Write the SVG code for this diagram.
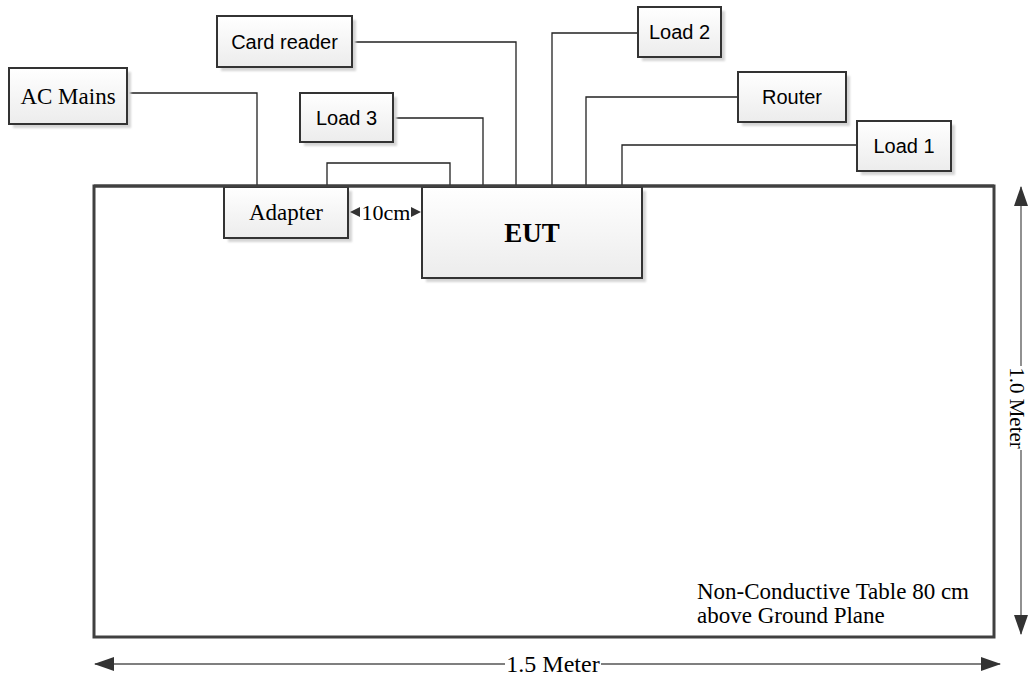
<svg xmlns="http://www.w3.org/2000/svg" width="1030" height="679" viewBox="0 0 1030 679">
  <defs>
    <linearGradient id="boxFill" x1="0" y1="0" x2="0" y2="1">
      <stop offset="0" stop-color="#ffffff"/>
      <stop offset="1" stop-color="#ececec"/>
    </linearGradient>
    <filter id="soft" x="-10%" y="-10%" width="130%" height="140%">
      <feGaussianBlur stdDeviation="1.2"/>
    </filter>
    <marker id="arrowEnd" viewBox="0 0 20 14" refX="19" refY="7" markerWidth="20" markerHeight="14" markerUnits="userSpaceOnUse" orient="auto">
      <path d="M0,0 L20,7 L0,14 Z" fill="#333"/>
    </marker>
    <marker id="arrowStart" viewBox="0 0 20 14" refX="1" refY="7" markerWidth="20" markerHeight="14" markerUnits="userSpaceOnUse" orient="auto">
      <path d="M20,0 L0,7 L20,14 Z" fill="#333"/>
    </marker>
  </defs>
  <style>
    .box { fill: url(#boxFill); stroke: #333; stroke-width: 2; }
    .shadow { fill: #d4d4d4; filter: url(#soft); }
    .wire { fill: none; stroke: #222; stroke-width: 1.3; }
    .dim { fill: none; stroke: #555; stroke-width: 1.3; }
    .serif { font-family: "Liberation Serif", "Times New Roman", serif; fill: #000; }
    .sans { font-family: "Liberation Sans", Arial, sans-serif; font-size: 20px; fill: #000; }
  </style>

  <rect width="1030" height="679" fill="#fff"/>

  <!-- table outline -->
  <g id="table">
    <rect x="94" y="186" width="900" height="451" fill="#fff" stroke="#404040" stroke-width="3"/>
    <text class="serif" font-size="23" x="697" y="599">Non-Conductive Table 80 cm</text>
    <text class="serif" font-size="23" x="697" y="623">above Ground Plane</text>
  </g>

  <!-- cables -->
  <g id="connectors">
    <polyline class="wire" points="127,93 257,93 257,186"/>
    <polyline class="wire" points="352,42 516,42 516,186"/>
    <polyline class="wire" points="393,118 483,118 483,186"/>
    <polyline class="wire" points="638,33 552,33 552,186"/>
    <polyline class="wire" points="738,97 586,97 586,186"/>
    <polyline class="wire" points="857,145 622,145 622,186"/>
    <polyline class="wire" points="327,186 327,163 450,163 450,186"/>
  </g>

  <g id="ac-mains">
    <rect class="shadow" x="13" y="72" width="118" height="56"/>
    <rect class="box" x="9" y="68" width="118" height="56"/>
    <text class="serif" font-size="23" x="68" y="104" text-anchor="middle">AC Mains</text>
  </g>

  <g id="card-reader">
    <rect class="shadow" x="221" y="20" width="135" height="51"/>
    <rect class="box" x="217" y="16" width="135" height="51"/>
    <text class="sans" x="284.5" y="48.5" text-anchor="middle">Card reader</text>
  </g>

  <g id="load-3">
    <rect class="shadow" x="304" y="97" width="93" height="49"/>
    <rect class="box" x="300" y="93" width="93" height="49"/>
    <text class="sans" x="346.5" y="124.5" text-anchor="middle">Load 3</text>
  </g>

  <g id="load-2">
    <rect class="shadow" x="642" y="11" width="83" height="50"/>
    <rect class="box" x="638" y="7" width="83" height="50"/>
    <text class="sans" x="679.5" y="39" text-anchor="middle">Load 2</text>
  </g>

  <g id="router">
    <rect class="shadow" x="742" y="76" width="108" height="50"/>
    <rect class="box" x="738" y="72" width="108" height="50"/>
    <text class="sans" x="792" y="104" text-anchor="middle">Router</text>
  </g>

  <g id="load-1">
    <rect class="shadow" x="861" y="125" width="94" height="50"/>
    <rect class="box" x="857" y="121" width="94" height="50"/>
    <text class="sans" x="904" y="153" text-anchor="middle">Load 1</text>
  </g>

  <g id="adapter">
    <rect class="shadow" x="228" y="191" width="124" height="51"/>
    <rect class="box" x="224" y="187" width="124" height="51"/>
    <text class="serif" font-size="23" x="286" y="220" text-anchor="middle">Adapter</text>
  </g>

  <g id="eut">
    <rect class="shadow" x="426" y="191" width="220" height="91"/>
    <rect class="box" x="422" y="187" width="220" height="91"/>
    <text class="serif" font-size="27" font-weight="bold" x="532" y="242" text-anchor="middle">EUT</text>
  </g>

  <!-- table top edge drawn over the boxes -->
  <line x1="94" y1="186" x2="994" y2="186" stroke="#404040" stroke-width="3"/>

  <!-- spacing between adapter and EUT -->
  <g id="gap-10cm">
    <path d="M350,212 L360,207 L360,217 Z" fill="#333"/>
    <path d="M421,212 L411,207 L411,217 Z" fill="#333"/>
    <text class="serif" font-size="22" x="386" y="220" text-anchor="middle">10cm</text>
  </g>

  <!-- overall dimensions -->
  <g id="dim-width">
    <line class="dim" x1="95" y1="664" x2="505" y2="664" marker-start="url(#arrowStart)"/>
    <line class="dim" x1="601" y1="664" x2="1000" y2="664" marker-end="url(#arrowEnd)"/>
    <text class="serif" font-size="24" x="553" y="672" text-anchor="middle">1.5 Meter</text>
  </g>

  <g id="dim-depth">
    <line class="dim" x1="1021" y1="187" x2="1021" y2="366" marker-start="url(#arrowStart)"/>
    <line class="dim" x1="1021" y1="450" x2="1021" y2="634" marker-end="url(#arrowEnd)"/>
    <text class="serif" font-size="21" transform="translate(1021,408) rotate(90)" x="0" y="11" text-anchor="middle">1.0 Meter</text>
  </g>
</svg>
